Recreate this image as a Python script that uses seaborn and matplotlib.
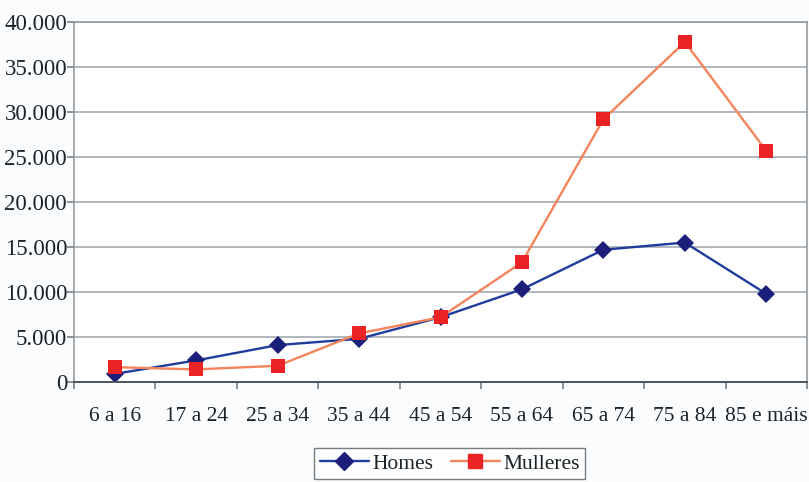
import numpy as np
import pandas as pd
import seaborn as sns
import matplotlib
matplotlib.use("Agg")
import matplotlib.pyplot as plt
from matplotlib.ticker import FuncFormatter, FixedLocator, MultipleLocator

# Age groups and counts per sex
grupos = ["6 a 16", "17 a 24", "25 a 34", "35 a 44", "45 a 54",
          "55 a 64", "65 a 74", "75 a 84", "85 e máis"]
homes = [900, 2400, 4100, 4800, 7200, 10300, 14700, 15500, 9800]
mulleres = [1650, 1400, 1800, 5400, 7200, 13300, 29200, 37800, 25700]
series = ["Homes", "Mulleres"]

df = pd.DataFrame({
    "pos": list(range(len(grupos))) * 2,
    "valor": homes + mulleres,
    "serie": [series[0]] * len(grupos) + [series[1]] * len(grupos),
})

sns.set_theme(style="white")
plt.rcParams["font.family"] = ["Liberation Serif", "DejaVu Serif"]

line_col = {"Homes": "#1e3c9c", "Mulleres": "#f4845c"}
mark_col = {"Homes": "#1c1f7a", "Mulleres": "#ec2324"}
txt_col = "#1a2328"

fig = plt.figure(figsize=(8.09, 4.82), dpi=100, facecolor="#fbfcfe")
ax = fig.add_axes([0.0915, 0.2075, 0.906, 0.7465])
ax.set_facecolor("white")

sns.lineplot(data=df, x="pos", y="valor", hue="serie", style="serie",
             markers={"Homes": "D", "Mulleres": "s"}, dashes=False,
             palette=line_col, linewidth=1.7, markersize=9.5,
             markeredgewidth=0, ax=ax, legend=False)

for ln, s in zip(ax.get_lines(), series):
    ln.set_markerfacecolor(mark_col[s])
    ln.set_markeredgecolor(mark_col[s])

ax.set_xlim(-0.5, len(grupos) - 0.5)
ax.set_ylim(0, 40000)
ax.yaxis.set_major_locator(MultipleLocator(5000))
ax.yaxis.set_major_formatter(FuncFormatter(lambda v, _: f"{int(v):,}".replace(",", ".")))
ax.yaxis.grid(True, color="#9aa3ab", linewidth=1.1)
ax.xaxis.grid(False)

ax.set_xticks(range(len(grupos)))
ax.set_xticklabels(grupos)
ax.xaxis.set_minor_locator(FixedLocator(np.arange(-0.5, len(grupos), 1.0)))
ax.tick_params(axis="x", which="major", length=0, pad=18, labelsize=15.5, labelcolor=txt_col)
ax.tick_params(axis="x", which="minor", length=5, width=1.1, color="#6b757c", bottom=True)
ax.tick_params(axis="y", which="major", length=5, width=1.1, color="#6b757c", left=True,
               pad=0, labelsize=16.5, labelcolor=txt_col)

for side in ["left", "right", "top", "bottom"]:
    ax.spines[side].set_visible(True)
    ax.spines[side].set_color("#8a949b")
    ax.spines[side].set_linewidth(1.1)
ax.spines["bottom"].set_color("#4d565c")
ax.spines["bottom"].set_linewidth(1.4)
ax.set_xlabel("")
ax.set_ylabel("")

handles = [
    plt.Line2D([], [], color=line_col[s], marker=m, markersize=9.5,
               markerfacecolor=mark_col[s], markeredgecolor=mark_col[s], linewidth=1.7)
    for s, m in zip(series, ["D", "s"])
]
fig.legend(handles, series, loc="lower center", bbox_to_anchor=(0.556, -0.016), ncol=2,
           frameon=True, fancybox=False, edgecolor="#555d63", fontsize=15.5,
           labelcolor=txt_col, handlelength=2.3, handletextpad=0.15,
           columnspacing=0.8, borderpad=0.25)

fig.savefig("out.png", dpi=100, facecolor=fig.get_facecolor())
